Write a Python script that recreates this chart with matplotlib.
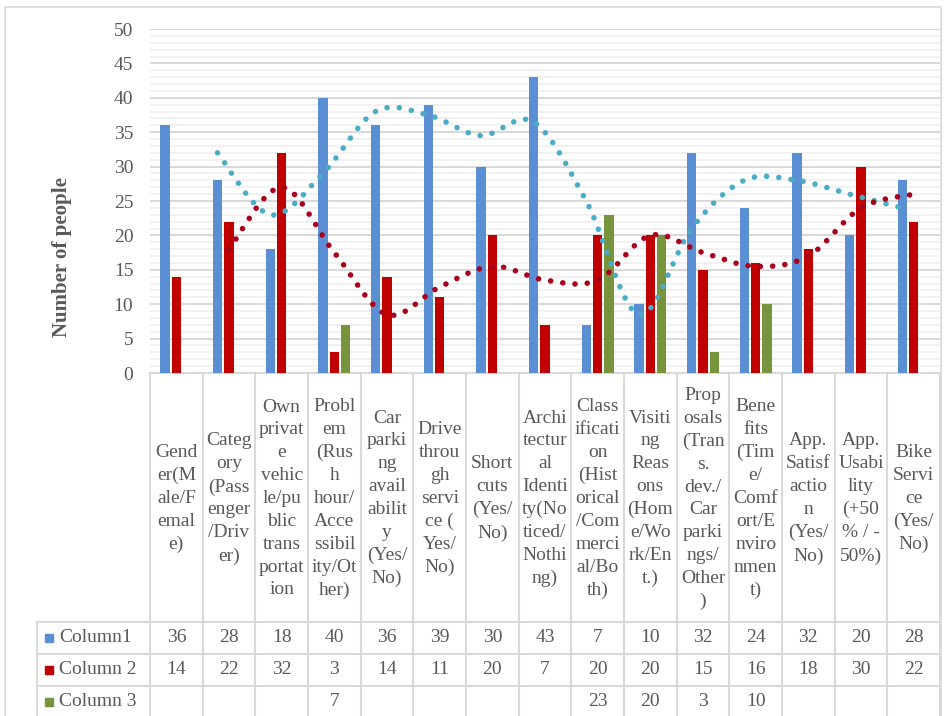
## survey chart: clustered columns with data table and 2-period moving average trend lines
import numpy as np
import matplotlib.pyplot as plt
from matplotlib.path import Path
from matplotlib.patches import PathPatch, Rectangle

plt.rcParams['font.family'] = ['Liberation Serif', 'DejaVu Serif']

## data
categories = [
    "Gend\ner(M\nale/F\nemal\ne)",
    "Categ\nory\n(Pass\nenger\n/Driv\ner)",
    "Own\nprivat\ne\nvehic\nle/pu\nblic\ntrans\nportat\nion",
    "Probl\nem\n(Rus\nh\nhour/\nAcce\nssibil\nity/Ot\nher)",
    "Car\nparki\nng\navail\nabilit\ny\n(Yes/\nNo)",
    "Drive\nthrou\ngh\nservi\nce (\nYes/\nNo)",
    "Short\ncuts\n(Yes/\nNo)",
    "Archi\ntectur\nal\nIdenti\nty(No\nticed/\nNothi\nng)",
    "Class\nificati\non\n(Hist\norical\n/Com\nmerci\nal/Bo\nth)",
    "Visiti\nng\nReas\nons\n(Hom\ne/Wo\nrk/En\nt.)",
    "Prop\nosals\n(Tran\ns.\ndev./\nCar\nparki\nngs/\nOther\n)",
    "Bene\nfits\n(Tim\ne/\nComf\nort/E\nnviro\nnmen\nt)",
    "App.\nSatisf\nactio\nn\n(Yes/\nNo)",
    "App.\nUsabi\nlity\n(+50\n% / -\n50%)",
    "Bike\nServi\nce\n(Yes/\nNo)",
]
col1 = [36, 28, 18, 40, 36, 39, 30, 43, 7, 10, 32, 24, 32, 20, 28]
col2 = [14, 22, 32, 3, 14, 11, 20, 7, 20, 20, 15, 16, 18, 30, 22]
col3 = [None, None, None, 7, None, None, None, None, 23, 20, 3, 10, None, None, None]
series_names = ['Column1', 'Column 2', 'Column 3']

## trend lines (2 per. moving average) start at the second category
trend1 = [32, 23, 29, 38, 37.5, 34.5, 36.5, 25, 8.5, 21, 28, 28, 26, 24]
trend2 = [18, 27, 17.5, 8.5, 12.5, 15.5, 13.5, 13.5, 20, 17.5, 15.5, 17, 24, 26]

colors = ['#5B8FD3', '#C00000', '#77933C']
trend_colors = ['#4BACC6', '#A8001C']
text_col = '#595959'
line_col = '#D9D9D9'

W, H = 946, 716
x_left, x_right = 150, 940
y_zero, y_top = 373, 29

fig = plt.figure(figsize=(W / 100, H / 100), dpi=100)

## overlay in pixel units for the frame and the data table
tab = fig.add_axes([0, 0, 1, 1], zorder=0)
tab.set_xlim(0, W)
tab.set_ylim(H, 0)
tab.axis('off')

ax = fig.add_axes([x_left / W, (H - y_zero) / H, (x_right - x_left) / W, (y_zero - y_top) / H], zorder=1)
ax.patch.set_visible(False)

n = len(categories)
x = np.arange(n) + 0.5
bw = 0.177
off = 0.218

## grid
ax.set_ylim(0, 50)
ax.set_xlim(0, n)
ax.set_yticks(range(0, 51, 5))
ax.set_yticks(range(0, 51, 1), minor=True)
ax.grid(axis='y', which='major', color=line_col, linewidth=1.5, zorder=0)
ax.grid(axis='y', which='minor', color='#EDEDED', linewidth=1.1, zorder=0)
ax.set_axisbelow(True)
ax.tick_params(axis='y', which='both', length=0, pad=12, labelsize=14, labelcolor=text_col)
ax.set_xticks([])
for s in ax.spines.values():
    s.set_visible(False)

## bars
for k, vals in enumerate([col1, col2, col3]):
    xs = [x[i] + (k - 1) * off for i in range(n) if vals[i] is not None]
    hs = [v for v in vals if v is not None]
    ax.bar(xs, hs, width=bw, color=colors[k], zorder=2)


## smooth curve through points (like Excel smoothed line)
def smooth_path(xs, ys):
    pts = np.column_stack([xs, ys]).astype(float)
    verts = [pts[0]]
    codes = [Path.MOVETO]
    m = len(pts)
    for i in range(m - 1):
        p0 = pts[i - 1] if i > 0 else pts[i]
        p1 = pts[i]
        p2 = pts[i + 1]
        p3 = pts[i + 2] if i + 2 < m else pts[i + 1]
        verts += [p1 + (p2 - p0) / 6, p2 - (p3 - p1) / 6, p2]
        codes += [Path.CURVE4] * 3
    return Path(verts, codes)


for k, tr in enumerate([trend1, trend2]):
    tx = x[1:] + (k - 1) * off
    patch = PathPatch(smooth_path(tx, tr), fill=False, edgecolor=trend_colors[k],
                      linewidth=4.0, linestyle=(0, (0.01, 2.2)), capstyle='round', zorder=3)
    ax.add_patch(patch)

## y label
fig.text(62 / W, 1 - 257 / H, 'Number of people', rotation=90, ha='center', va='center',
         fontsize=15, fontweight='bold', color=text_col)

## outer frame
tab.add_patch(Rectangle((5, 7), 936, 720, fill=False, edgecolor=line_col, linewidth=1.2))

## data table
cw = (x_right - x_left) / n
rows = [622, 654, 686, 718]
tab.plot([x_left, x_right], [y_zero, y_zero], color=line_col, lw=1.5)
for i in range(n + 1):
    xb = x_left + i * cw
    tab.plot([xb, xb], [y_zero, H], color=line_col, lw=1.5)
tab.plot([37, 37], [rows[0], H], color=line_col, lw=1.5)
for r in rows[:3]:
    tab.plot([37, x_right], [r, r], color=line_col, lw=1.5)

for i, cat in enumerate(categories):
    tab.text(x_left + (i + 0.5) * cw, (y_zero + rows[0]) / 2 + 1, cat, ha='center', va='center',
             fontsize=14, color=text_col, linespacing=1.45)

for k, vals in enumerate([col1, col2, col3]):
    yc = (rows[k] + rows[k + 1]) / 2
    tab.add_patch(Rectangle((45, yc - 4), 8, 8, color=colors[k]))
    tab.text(59, yc, series_names[k], ha='left', va='center', fontsize=14, color=text_col)
    for i, v in enumerate(vals):
        if v is not None:
            tab.text(x_left + (i + 0.5) * cw, yc, str(v), ha='center', va='center',
                     fontsize=14, color=text_col)

fig.savefig('out.png', dpi=100)
